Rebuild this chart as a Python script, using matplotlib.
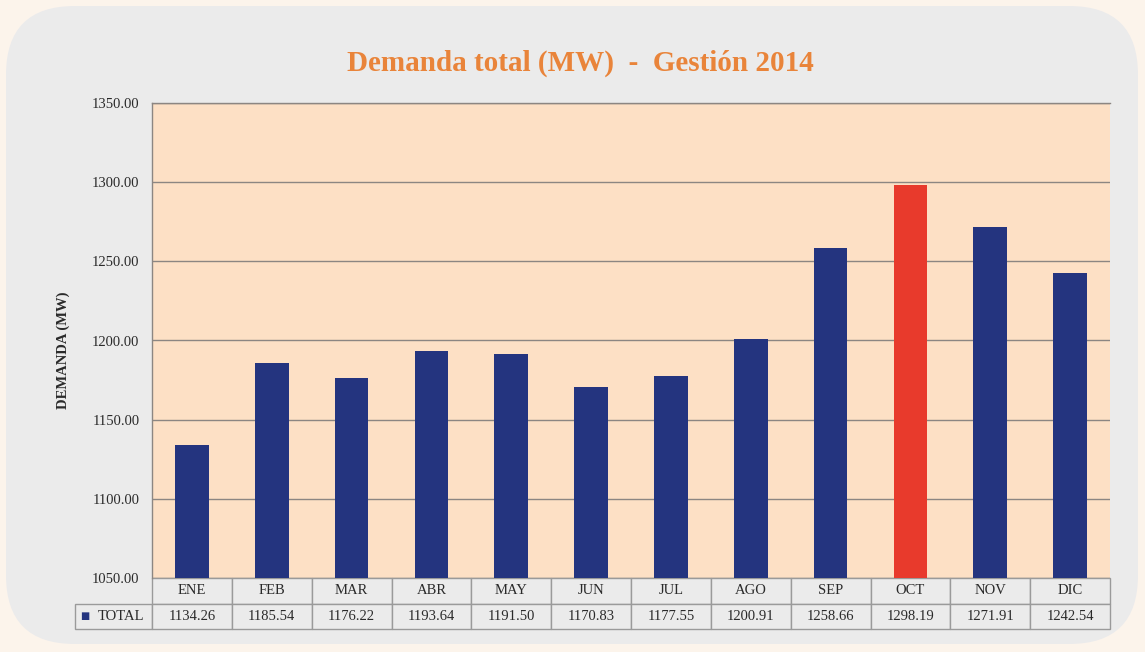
import matplotlib
matplotlib.use("Agg")
import matplotlib.pyplot as plt
from matplotlib.patches import FancyBboxPatch

months = ["ENE", "FEB", "MAR", "ABR", "MAY", "JUN", "JUL", "AGO", "SEP", "OCT", "NOV", "DIC"]
total = [1134.26, 1185.54, 1176.22, 1193.64, 1191.50, 1170.83, 1177.55, 1200.91, 1258.66, 1298.19, 1271.91, 1242.54]
yticks = [1050, 1100, 1150, 1200, 1250, 1300, 1350]
series_name = "TOTAL"
highlight = "OCT"

NAVY = "#24347f"
RED = "#e83a2c"
ORANGE = "#e9843a"
PANEL = "#ebebeb"
PLOTBG = "#fde0c5"
GRID = "#8c8682"
TXT = "#2a2a2a"

plt.rcParams['font.family'] = ['Liberation Serif', 'DejaVu Serif']

W, H = 1145, 652
fig = plt.figure(figsize=(W / 100, H / 100), dpi=100, facecolor="#fcf4eb")

panel = FancyBboxPatch((6 / W, 8 / H), (1138 - 6) / W, (646 - 8) / H,
                       boxstyle="round,pad=0,rounding_size=0.06",
                       transform=fig.transFigure, facecolor=PANEL, edgecolor="none",
                       mutation_aspect=W / H, zorder=-5)
fig.patches.append(panel)

left, right, top, bottom = 152, 1110, 103, 578
ax = fig.add_axes([left / W, 1 - bottom / H, (right - left) / W, (bottom - top) / H])
ax.set_facecolor(PLOTBG)

x = list(range(len(months)))
colors = [RED if m == highlight else NAVY for m in months]
ax.bar(x, [v - yticks[0] for v in total], bottom=yticks[0], width=0.42, color=colors, zorder=3)

ax.set_xlim(-0.5, len(months) - 0.5)
ax.set_ylim(yticks[0], yticks[-1])
ax.set_yticks(yticks)
ax.set_yticklabels([f"{t:.2f}" for t in yticks], fontsize=10.5, color=TXT)
ax.tick_params(axis="y", length=0, pad=9)
ax.set_xticks([])
ax.yaxis.grid(True, color=GRID, linewidth=1.0, zorder=1)
ax.set_axisbelow(True)
for s in ["right", "bottom"]:
    ax.spines[s].set_visible(False)
for s in ["left", "top"]:
    ax.spines[s].set_color(GRID)
    ax.spines[s].set_linewidth(1.0)

ax.set_ylabel("DEMANDA (MW)", fontsize=10.5, fontweight="bold", color=TXT)
ax.yaxis.set_label_coords(-0.086, 0.48)

# data table (first column holds the series label)
lab_w = 77 / (right - left)
col_w = 1 / len(months)
tbl_h = 51 / (bottom - top)
cell_text = [[""] + months, [series_name] + [f"{v:.2f}" for v in total]]
tbl = ax.table(cellText=cell_text,
               colWidths=[lab_w] + [col_w] * len(months),
               cellLoc="center",
               bbox=[-lab_w, -tbl_h, 1 + lab_w, tbl_h])
tbl.auto_set_font_size(False)
for (r, c), cell in tbl.get_celld().items():
    cell.set_facecolor(PANEL)
    cell.set_edgecolor("#9a9a9a")
    cell.set_linewidth(1.0)
    cell.get_text().set_fontsize(10.5)
    cell.get_text().set_color(TXT)
tbl[0, 0].set_visible(False)
tbl[1, 0].get_text().set_horizontalalignment("right")
tbl[1, 0]._loc = "right"

fig.text(80 / W, 1 - 616 / H, "■", color=NAVY, fontsize=7, ha="left", va="center",
         family=["DejaVu Sans"])

fig.text(580 / W, 1 - 63 / H, "Demanda total (MW)  -  Gestión 2014", color=ORANGE,
         fontsize=21, fontweight="bold", ha="center", va="center")

fig.savefig("out.png", dpi=100, facecolor=fig.get_facecolor())
